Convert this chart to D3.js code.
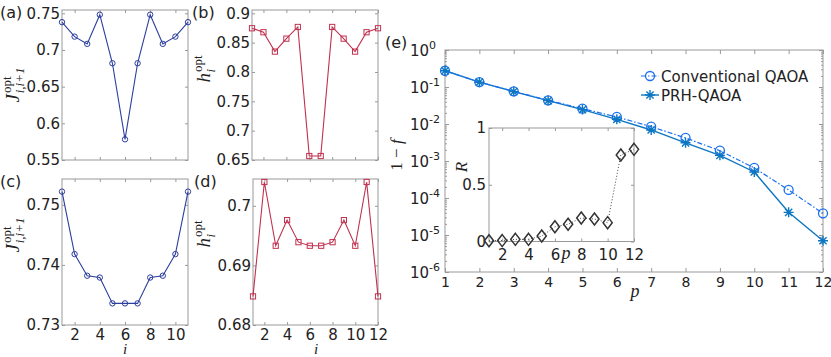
<!doctype html>
<html lang="en">
  <head>
    <meta charset="UTF-8" />
    <title>Optimal couplings and QAOA infidelity</title>
    <script src="https://d3js.org/d3.v7.min.js"></script>
    <style>
      body {
        margin: 0;
        background: #fff;
      }
      svg text {
        font-family: 'DejaVu Sans', sans-serif;
        fill: #222;
      }
      .math {
        font-family: 'Liberation Serif', serif;
      }
      .frame {
        fill: none;
        stroke: #999;
        stroke-width: 1;
      }
      .tk line {
        stroke: #999;
      }
    </style>
  </head>
  <body>
    <svg width="831" height="357"></svg>
    <script>
      // bond index (11 bonds) and site index (12 sites)
      const bonds = [1, 2, 3, 4, 5, 6, 7, 8, 9, 10, 11];
      const sites = [1, 2, 3, 4, 5, 6, 7, 8, 9, 10, 11, 12];

      // (a) J_opt and (b) h_opt, first set
      const jOptA = [0.7379, 0.7182, 0.7083, 0.7481, 0.6819, 0.5782, 0.6819, 0.7481, 0.7083, 0.7182, 0.7379];
      const hOptB = [0.8745, 0.8677, 0.8347, 0.8568, 0.8767, 0.6568, 0.6568, 0.8767, 0.8568, 0.8347, 0.8677, 0.8745];
      // (c) J_opt and (d) h_opt, second set
      const jOptC = [0.7522, 0.7418, 0.7382, 0.7379, 0.7336, 0.7336, 0.7336, 0.7379, 0.7382, 0.7418, 0.7522];
      const hOptD = [0.6848, 0.704, 0.6933, 0.6976, 0.6939, 0.6933, 0.6933, 0.6939, 0.6976, 0.6933, 0.704, 0.6848];

      // (e) 1 - f against p
      const pVals = [1, 2, 3, 4, 5, 6, 7, 8, 9, 10, 11, 12];
      const conventional = [0.275, 0.136, 0.0764, 0.0436, 0.026, 0.0155, 0.0085, 0.0042, 0.0019, 0.00065, 1.65e-4, 3.85e-5];
      const prh = [0.275, 0.135, 0.075, 0.043, 0.0245, 0.0134, 0.0069, 0.0031, 0.00142, 0.000505, 4.1e-5, 7.0e-6];
      // inset R against p
      const ratioR = [0.007, 0.008, 0.019, 0.019, 0.048, 0.13, 0.152, 0.207, 0.198, 0.166, 0.762, 0.812];

      const svg = d3.select('svg');
      const fmt = (d) => String(+d.toFixed(2));

      function box(g, x0, y0, x1, y1) {
        g.append('rect')
          .attr('class', 'frame')
          .attr('x', x0)
          .attr('y', y0)
          .attr('width', x1 - x0)
          .attr('height', y1 - y0);
      }

      function clean(sel, size) {
        sel.attr('class', 'tk').call((s) => s.select('.domain').remove());
        sel.selectAll('text').style('font-size', (size || 15) + 'px');
      }

      // small line panels (a)-(d)
      function panel(opt) {
        const g = svg.append('g');
        const x = d3.scaleLinear().domain(opt.xDom).range([opt.x0, opt.x1]);
        const y = d3.scaleLinear().domain(opt.yDom).range([opt.y1, opt.y0]);

        // ticks inside, on all four sides
        g.append('g')
          .attr('transform', `translate(0,${opt.y1})`)
          .call(
            d3.axisBottom(x).tickValues(opt.xTicks).tickSizeInner(-3).tickSizeOuter(0).tickPadding(4)
              .tickFormat(opt.xLabels ? d3.format('d') : ''),
          )
          .call(clean);
        g.append('g')
          .attr('transform', `translate(0,${opt.y0})`)
          .call(d3.axisTop(x).tickValues(opt.xTicks).tickSizeInner(-3).tickSizeOuter(0).tickFormat(''))
          .call(clean);
        g.append('g')
          .attr('transform', `translate(${opt.x0},0)`)
          .call(d3.axisLeft(y).tickValues(opt.yTicks).tickSizeInner(-3).tickSizeOuter(0).tickPadding(2).tickFormat(fmt))
          .call(clean);
        g.append('g')
          .attr('transform', `translate(${opt.x1},0)`)
          .call(d3.axisRight(y).tickValues(opt.yTicks).tickSizeInner(-3).tickSizeOuter(0).tickFormat(''))
          .call(clean);
        box(g, opt.x0, opt.y0, opt.x1, opt.y1);

        const pts = opt.xs.map((v, i) => [v, opt.ys[i]]);
        g.append('path')
          .datum(pts)
          .attr('fill', 'none')
          .attr('stroke', opt.color)
          .attr('stroke-width', 1.1)
          .attr('d', d3.line().x((d) => x(d[0])).y((d) => y(d[1])));

        if (opt.marker === 'circle') {
          g.selectAll('.mk')
            .data(pts)
            .enter()
            .append('circle')
            .attr('cx', (d) => x(d[0]))
            .attr('cy', (d) => y(d[1]))
            .attr('r', 2.7)
            .attr('fill', 'none')
            .attr('stroke', opt.color)
            .attr('stroke-width', 1);
        } else {
          g.selectAll('.mk')
            .data(pts)
            .enter()
            .append('rect')
            .attr('x', (d) => x(d[0]) - 2.6)
            .attr('y', (d) => y(d[1]) - 2.6)
            .attr('width', 5.2)
            .attr('height', 5.2)
            .attr('fill', 'none')
            .attr('stroke', opt.color)
            .attr('stroke-width', 1);
        }

        g.append('text')
          .attr('x', opt.letterX)
          .attr('y', opt.y0 + 8)
          .style('font-size', '16px')
          .text(opt.letter);

        // rotated y label
        const yl = g.append('text')
          .attr('class', 'math')
          .attr('text-anchor', 'middle')
          .attr('transform', `translate(${opt.labX},${opt.labY}) rotate(-90)`);
        yl.append('tspan').style('font-style', 'italic').style('font-size', '19px').text(opt.base);
        yl.append('tspan').attr('dx', 1).attr('dy', -8).style('font-size', '13px').text('opt');
        yl.append('tspan')
          .attr('dx', -17)
          .attr('dy', 13)
          .style('font-style', 'italic')
          .style('font-size', '13px')
          .text(opt.sub);
      }

      const blue = '#2c3e9e';
      const red = '#c0304e';

      panel({
        x0: 62, x1: 188, y0: 10, y1: 160, xDom: [1, 11], yDom: [0.55, 0.7545],
        xTicks: [2, 4, 6, 8, 10], yTicks: [0.55, 0.6, 0.65, 0.7, 0.75], xLabels: false,
        xs: bonds, ys: jOptA, color: blue, marker: 'circle', letter: '(a)', letterX: 0,
        labX: 19, labY: 85, base: 'J', sub: 'i,i+1',
      });
      panel({
        x0: 252, x1: 378, y0: 10, y1: 160, xDom: [1, 12], yDom: [0.65, 0.9056],
        xTicks: [2, 4, 6, 8, 10, 12], yTicks: [0.65, 0.7, 0.75, 0.8, 0.85, 0.9], xLabels: false,
        xs: sites, ys: hOptB, color: red, marker: 'square', letter: '(b)', letterX: 192,
        labX: 210, labY: 69, base: 'h', sub: 'i',
      });
      panel({
        x0: 62, x1: 188, y0: 179, y1: 325, xDom: [1, 11], yDom: [0.73, 0.7543],
        xTicks: [2, 4, 6, 8, 10], yTicks: [0.73, 0.74, 0.75], xLabels: true,
        xs: bonds, ys: jOptC, color: blue, marker: 'circle', letter: '(c)', letterX: 0,
        labX: 19, labY: 235, base: 'J', sub: 'i,i+1',
      });
      panel({
        x0: 253, x1: 378, y0: 179, y1: 325, xDom: [1, 12], yDom: [0.68, 0.7045],
        xTicks: [2, 4, 6, 8, 10, 12], yTicks: [0.68, 0.69, 0.7], xLabels: true,
        xs: sites, ys: hOptD, color: red, marker: 'square', letter: '(d)', letterX: 194,
        labX: 210, labY: 234, base: 'h', sub: 'i',
      });

      // shared x labels under (c) and (d)
      [125, 316].forEach((cx) => {
        svg.append('text')
          .attr('class', 'math')
          .attr('x', cx)
          .attr('y', 353.5)
          .attr('text-anchor', 'middle')
          .style('font-style', 'italic')
          .style('font-size', '15px')
          .text('i');
      });

      // panel (e)
      const ge = svg.append('g');
      const ex0 = 445, ex1 = 823, ey0 = 50, ey1 = 272;
      const xe = d3.scaleLinear().domain([1, 12]).range([ex0, ex1]);
      const ye = d3.scaleLog().domain([1e-6, 1]).range([ey1, ey0]);
      const isMajor = (v) => Math.abs(Math.log10(v) - Math.round(Math.log10(v))) < 1e-9;
      const allT = ye.ticks();
      const majors = allT.filter(isMajor);
      const minors = allT.filter((v) => !isMajor(v));

      ge.append('g')
        .attr('transform', `translate(0,${ey1})`)
        .call(d3.axisBottom(xe).tickValues(pVals).tickSizeInner(-4).tickSizeOuter(0).tickPadding(5).tickFormat(d3.format('d')))
        .call(clean, 14);
      ge.append('g')
        .attr('transform', `translate(0,${ey0})`)
        .call(d3.axisTop(xe).tickValues(pVals).tickSizeInner(-4).tickSizeOuter(0).tickFormat(''))
        .call(clean);
      [[ex0, d3.axisLeft], [ex1, d3.axisRight]].forEach(([px, ax]) => {
        ge.append('g')
          .attr('transform', `translate(${px},0)`)
          .call(ax(ye).tickValues(majors).tickSizeInner(-4).tickSizeOuter(0).tickFormat(''))
          .call(clean);
        ge.append('g')
          .attr('transform', `translate(${px},0)`)
          .call(ax(ye).tickValues(minors).tickSizeInner(-2).tickSizeOuter(0).tickFormat(''))
          .call(clean);
      });
      box(ge, ex0, ey0, ex1, ey1);

      // decade labels 10^k
      majors.forEach((v) => {
        const t = ge.append('text')
          .attr('x', 410)
          .attr('y', ye(v) + 6)
          .style('font-size', '15px');
        t.append('tspan').text('10');
        t.append('tspan')
          .attr('dy', -7)
          .style('font-size', '11px')
          .text(String(Math.round(Math.log10(v))));
      });

      const convColor = '#1a6ff0';
      const prhColor = '#0c77c0';
      const lineE = d3.line().x((d) => xe(d[0])).y((d) => ye(d[1]));
      const convPts = pVals.map((p, i) => [p, conventional[i]]);
      const prhPts = pVals.map((p, i) => [p, prh[i]]);
      const star = 'M-5,0H5M0,-5V5M-3.6,-3.6L3.6,3.6M-3.6,3.6L3.6,-3.6';

      ge.append('path')
        .datum(prhPts)
        .attr('fill', 'none')
        .attr('stroke', prhColor)
        .attr('stroke-width', 1.4)
        .attr('d', lineE);
      ge.append('path')
        .datum(convPts)
        .attr('fill', 'none')
        .attr('stroke', convColor)
        .attr('stroke-width', 1.2)
        .attr('stroke-dasharray', '5,2,1.5,2')
        .attr('d', lineE);
      ge.selectAll('.conv')
        .data(convPts)
        .enter()
        .append('circle')
        .attr('cx', (d) => xe(d[0]))
        .attr('cy', (d) => ye(d[1]))
        .attr('r', 4.5)
        .attr('fill', 'none')
        .attr('stroke', convColor)
        .attr('stroke-width', 1.3);
      ge.selectAll('.prh')
        .data(prhPts)
        .enter()
        .append('path')
        .attr('transform', (d) => `translate(${xe(d[0])},${ye(d[1])})`)
        .attr('d', star)
        .attr('fill', 'none')
        .attr('stroke', prhColor)
        .attr('stroke-width', 1.4);

      // legend
      const leg = ge.append('g');
      leg.append('line')
        .attr('x1', 641).attr('x2', 659).attr('y1', 76).attr('y2', 76)
        .attr('stroke', convColor).attr('stroke-width', 1.2).attr('stroke-dasharray', '5,2,1.5,2');
      leg.append('circle')
        .attr('cx', 650).attr('cy', 76).attr('r', 4.5)
        .attr('fill', 'none').attr('stroke', convColor).attr('stroke-width', 1.3);
      leg.append('line')
        .attr('x1', 641).attr('x2', 659).attr('y1', 95).attr('y2', 95)
        .attr('stroke', prhColor).attr('stroke-width', 1.4);
      leg.append('path')
        .attr('transform', 'translate(650,95)').attr('d', star)
        .attr('fill', 'none').attr('stroke', prhColor).attr('stroke-width', 1.4);
      leg.append('text').attr('x', 661).attr('y', 81.5).style('font-size', '15px').text('Conventional QAOA');
      leg.append('text').attr('x', 661).attr('y', 100.5).style('font-size', '15px').text('PRH-QAOA');

      ge.append('text').attr('x', 385).attr('y', 48).style('font-size', '16px').text('(e)');

      const fl = ge.append('text')
        .attr('class', 'math')
        .attr('text-anchor', 'middle')
        .attr('transform', 'translate(402,155) rotate(-90)')
        .style('font-size', '17px');
      fl.append('tspan').text('1 \u2212 ');
      fl.append('tspan').style('font-style', 'italic').text('f');

      ge.append('text')
        .attr('class', 'math')
        .attr('x', 635)
        .attr('y', 297)
        .attr('text-anchor', 'middle')
        .style('font-style', 'italic')
        .style('font-size', '18px')
        .text('p');

      // inset R
      const gi = svg.append('g');
      const ix0 = 489, ix1 = 634, iy0 = 128, iy1 = 241.5;
      const xi = d3.scaleLinear().domain([1, 12]).range([ix0, ix1]);
      const yi = d3.scaleLinear().domain([0, 1]).range([iy1, iy0]);
      gi.append('rect').attr('x', ix0).attr('y', iy0).attr('width', ix1 - ix0).attr('height', iy1 - iy0).attr('fill', '#fff');
      gi.append('g')
        .attr('transform', `translate(0,${iy1})`)
        .call(d3.axisBottom(xi).tickValues([2, 4, 6, 8, 10, 12]).tickSizeInner(-3).tickSizeOuter(0).tickPadding(8).tickFormat(d3.format('d')))
        .call(clean);
      gi.append('g')
        .attr('transform', `translate(0,${iy0})`)
        .call(d3.axisTop(xi).tickValues([2, 4, 6, 8, 10, 12]).tickSizeInner(-3).tickSizeOuter(0).tickFormat(''))
        .call(clean);
      gi.append('g')
        .attr('transform', `translate(${ix0},0)`)
        .call(d3.axisLeft(yi).tickValues([0, 0.5, 1]).tickSizeInner(-3).tickSizeOuter(0).tickPadding(3).tickFormat(fmt))
        .call(clean);
      gi.append('g')
        .attr('transform', `translate(${ix1},0)`)
        .call(d3.axisRight(yi).tickValues([0, 0.5, 1]).tickSizeInner(-3).tickSizeOuter(0).tickFormat(''))
        .call(clean);
      box(gi, ix0, iy0, ix1, iy1);

      const rPts = pVals.map((p, i) => [p, ratioR[i]]);
      gi.append('path')
        .datum(rPts)
        .attr('fill', 'none')
        .attr('stroke', '#444')
        .attr('stroke-width', 1)
        .attr('stroke-dasharray', '1,2')
        .attr('d', d3.line().x((d) => xi(d[0])).y((d) => yi(d[1])));
      gi.selectAll('.dia')
        .data(rPts)
        .enter()
        .append('path')
        .attr('transform', (d) => `translate(${xi(d[0])},${yi(d[1])})`)
        .attr('d', 'M0,-6L4.6,0L0,6L-4.6,0Z')
        .attr('fill', 'none')
        .attr('stroke', '#333')
        .attr('stroke-width', 1.5);

      gi.append('text')
        .attr('class', 'math')
        .attr('text-anchor', 'middle')
        .attr('transform', 'translate(467,167) rotate(-90)')
        .style('font-style', 'italic')
        .style('font-size', '17px')
        .text('R');
      gi.append('text')
        .attr('class', 'math')
        .attr('x', 566)
        .attr('y', 259)
        .attr('text-anchor', 'middle')
        .style('font-style', 'italic')
        .style('font-size', '18px')
        .text('p');
    </script>
  </body>
</html>
